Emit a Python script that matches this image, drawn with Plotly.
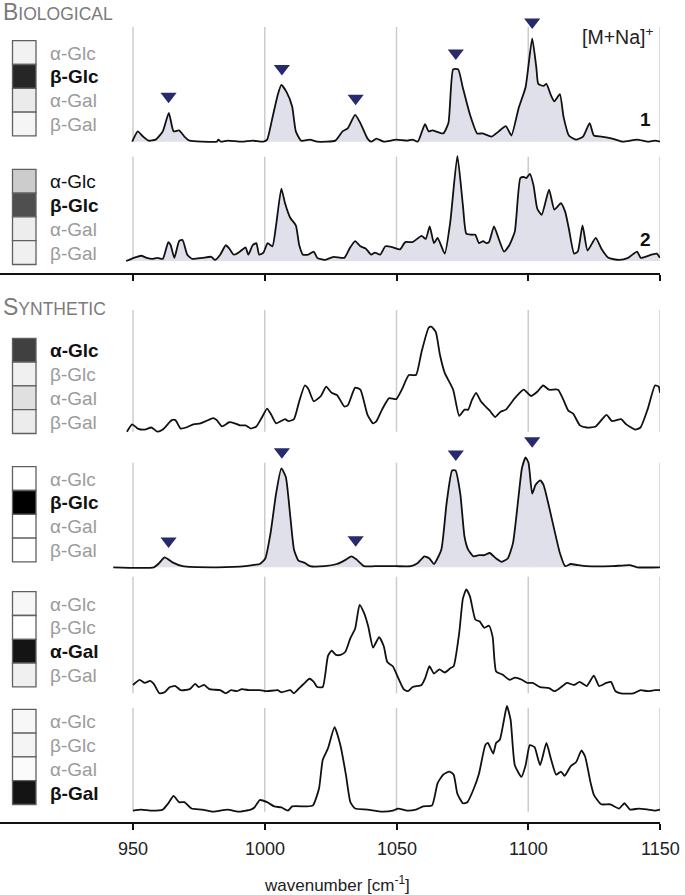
import plotly.graph_objects as go
import numpy as np

W, H = 685, 895

TICKS = [950, 1000, 1050, 1100, 1150]
TICK_LABELS = ["950", "1000", "1050", "1100", "1150"]
SUGARS = ["α-Glc", "β-Glc", "α-Gal", "β-Gal"]
MARKER_WN = [963.5, 1006.5, 1034.5, 1072.5, 1101.5]

# ---- spectra (wavenumber, relative intensity %) ----
WN1 = [949.7, 951.8, 953.8, 955.9, 958.6, 961.3, 963.6, 965.4, 967.5, 969.5, 971.5, 976.3, 981.8, 982.4, 983.4,
       985.9, 991.3, 995.4, 999.5, 1000.9, 1002.9, 1004.9, 1006.3, 1008.3, 1010.4, 1011.8, 1013.8, 1017.2, 1019.9,
       1026.8, 1029.5, 1031.5, 1034.3, 1036.3, 1039, 1040.4, 1042.4, 1045.2, 1049.9, 1054, 1056.1, 1058.1, 1060.8,
       1062.2, 1063.6, 1067.7, 1069.7, 1071.5, 1073.4, 1075.2, 1077.9, 1080.6, 1082.6, 1086.1, 1088.8, 1091.5,
       1093.6, 1096.3, 1099, 1101.5, 1103.1, 1103.8, 1105.8, 1106.9, 1108.6, 1109.9, 1112, 1113.4, 1115.4, 1118.1,
       1120.8, 1123.3, 1124.9, 1127.7, 1131.8, 1135.8, 1141.3, 1145.4, 1148.1, 1150]
I1 = [0, 10, 5, 1, 2, 10, 28, 10, 11, 5, 1, 0, 0, 2, 0,
      1, 0, 1, 0, 2, 23, 45, 55, 48, 34, 10, 1, 2, 0,
      1, 10, 13, 26, 18, 3, 0, 3, 0, 2, 1, 2, 0, 17,
      10, 11, 8, 18, 70, 70, 52, 26, 8, 8, 5, 10, 15,
      6, 32, 53, 100, 71, 56, 54, 56, 45, 39, 46, 24, 6, 2,
      5, 18, 6, 5, 3, 0, 2, 0, 1, 0]

WN2 = [947.4, 950.4, 953.1, 955.2, 957.2, 959.3, 961.3, 963.4, 964.3, 965.7, 967.5, 968.8, 970.6, 972.5, 976.3,
       979.7, 981.1, 983.1, 985.2, 986.5, 988.3, 990.6, 992.7, 993.8, 995.4, 996.8, 997.9, 999.5, 1001.1, 1002.9,
       1004.3, 1006.3, 1007.7, 1009.7, 1011.8, 1013.1, 1014.5, 1016.5, 1018.6, 1019.9, 1022.7, 1026.1, 1030.2,
       1032.2, 1034.3, 1036.3, 1038.3, 1040.4, 1041.8, 1043.8, 1045.8, 1048.6, 1051.3, 1053.3, 1056.1, 1059.5,
       1061.1, 1062.6, 1064.2, 1065.6, 1068.3, 1070.4, 1073.1, 1075.2, 1076.5, 1078.6, 1079.9, 1081.3, 1082.9,
       1084, 1085.1, 1087, 1088.8, 1090.8, 1092.8, 1094.9, 1097, 1098.3, 1099.3, 1100.6, 1102, 1103.4, 1105.1,
       1107.9, 1109.9, 1112.4, 1114, 1115.4, 1117.4, 1118.8, 1120.6, 1122.5, 1125.6, 1127.7, 1130.4, 1134.5,
       1137.9, 1141.3, 1142.7, 1146.8, 1148.8, 1150]
I2 = [0, 3, 5, 3, 2, 3, 2, 18, 15, 3, 19, 20, 6, 2, 3,
      4, 1, 6, 15, 12, 6, 9, 13, 6, 15, 17, 6, 8, 17, 14,
      34, 69, 55, 41, 34, 15, 6, 6, 9, 3, 1, 4, 3,
      12, 19, 14, 12, 6, 8, 6, 14, 13, 11, 18, 18, 24,
      21, 33, 17, 22, 7, 37, 100, 53, 26, 25, 25, 17, 19,
      17, 18, 33, 21, 9, 15, 28, 79, 80, 79, 83, 72, 50, 44,
      68, 49, 55, 47, 31, 7, 9, 34, 10, 22, 12, 3, 1,
      3, 9, 3, 6, 7, 3]

WN3 = [947.7, 949.7, 951.8, 954.5, 957, 959.3, 961.3, 964.7, 966.1, 968.1, 970.2, 972.9, 975.6, 977.7, 980.4,
       981.8, 983.8, 986.5, 988.6, 990.6, 992.7, 994.7, 996.8, 998.8, 1000.9, 1002.5, 1004.3, 1007.7, 1009,
       1011.1, 1013.1, 1015.2, 1016.5, 1018.6, 1021.3, 1023.3, 1025.4, 1027.4, 1030.2, 1031.5, 1034.3, 1036.3,
       1039, 1041.1, 1042.4, 1044.5, 1047.2, 1049.9, 1052, 1054.7, 1057.4, 1059.5, 1062.2, 1063.2, 1064.9,
       1066.5, 1068.3, 1071.5, 1073.8, 1075.8, 1077.2, 1078.6, 1080.2, 1082, 1083.8, 1085.4, 1087.4, 1089.5,
       1091.5, 1094.9, 1098.3, 1101, 1103.4, 1105.6, 1107.9, 1111.3, 1113.4, 1115.2, 1117.1, 1119.6, 1122.2,
       1125.6, 1129.7, 1131.8, 1135.2, 1137.2, 1140.6, 1142.6, 1145.4, 1148.1, 1149.5, 1150]
I3 = [0, 7, 3, 2, 4, 0, 2, 11, 11, 3, 4, 7, 8, 10, 13,
      11, 5, 9, 8, 6, 6, 3, 5, 13, 22, 16, 8, 12, 10,
      12, 29, 44, 41, 29, 34, 43, 37, 35, 24, 25, 42, 40,
      16, 8, 10, 21, 32, 31, 40, 54, 54, 76, 99, 100, 95,
      73, 56, 40, 15, 21, 21, 30, 37, 29, 24, 20, 14, 19,
      21, 32, 40, 34, 38, 44, 40, 40, 30, 20, 17, 6, 4,
      5, 16, 10, 12, 7, 2, 4, 22, 44, 43, 37]

WN4 = [942.5, 957.9, 960, 962, 965.4, 968.8, 981.8, 992.7, 995.4, 998.1, 1000.2, 1002.2, 1004.3, 1006.3, 1008,
       1009.7, 1011.1, 1012.8, 1015.2, 1017.2, 1022.7, 1027.4, 1030.8, 1032.9, 1034.9, 1037.7, 1041.7, 1049.9,
       1055.4, 1058.1, 1060.6, 1062.5, 1064.2, 1067, 1069, 1071.1, 1072.4, 1074.2, 1075.8, 1077.2, 1079.2,
       1081.3, 1083.3, 1085.4, 1087.8, 1089.9, 1092.2, 1094.2, 1096.3, 1097.6, 1099, 1100.1, 1101.5, 1102.8,
       1104.5, 1105.8, 1107.9, 1109.9, 1112, 1114, 1116.1, 1118.8, 1122.2, 1131.7, 1138.5, 1141.3, 1150]
I4 = [0, 0, 4, 9, 4, 1, 0, 1, 2, 3, 8, 31, 67, 90, 82,
      46, 16, 6, 4, 1, 1, 3, 7, 10, 7, 1, 1, 1,
      1, 4, 10, 8, 3, 16, 58, 88, 88, 67, 28, 16, 10,
      11, 11, 13, 8, 5, 8, 22, 64, 90, 100, 95, 67, 75,
      79, 75, 55, 34, 13, 1, 3, 2, 1, 1, 2, 0, 0]

WN5 = [950, 952.5, 954.5, 956.5, 957.9, 960, 962, 964, 966.1, 968.1, 971.5, 973.6, 975, 977, 979, 983.1,
       985.2, 987.2, 989.3, 991.3, 994, 998.1, 1000.9, 1004.9, 1006.3, 1009.7, 1011.1, 1013.1, 1015.2, 1016.9,
       1018.6, 1019.9, 1022, 1024, 1025.4, 1027, 1028.8, 1030.6, 1032.5, 1034.3, 1036, 1037.7, 1039.3, 1041.1,
       1043.4, 1045.2, 1046.5, 1048.6, 1050.6, 1052.7, 1054.3, 1056.1, 1059.5, 1060.8, 1062.5, 1064.2, 1066.3,
       1068.3, 1070.4, 1071.7, 1073.8, 1075.2, 1076.5, 1077.9, 1079.9, 1081.6, 1083.3, 1085.1, 1086.5, 1087.8,
       1090.2, 1092.9, 1094.9, 1097.6, 1099.7, 1101.7, 1104.5, 1107.9, 1109.9, 1112, 1114.7, 1117.4, 1119.5,
       1122.2, 1124.9, 1126.9, 1129.6, 1131.4, 1133.1, 1135.1, 1139.9, 1142.6, 1145.4, 1148.1, 1150]
I5 = [8, 13, 10, 12, 9, 0, 1, 6, 7, 3, 4, 9, 6, 8, 4, 3,
      0, 3, 2, 4, 3, 3, 2, 3, 1, 3, 0, 5, 10, 14,
      11, 6, 6, 36, 41, 37, 37, 40, 53, 62, 85, 77, 64, 44,
      54, 45, 30, 26, 15, 4, 2, 6, 8, 14, 26, 19, 23,
      20, 24, 26, 58, 91, 100, 93, 71, 69, 63, 65, 54, 21,
      18, 13, 15, 13, 10, 10, 6, 5, 2, 5, 10, 8, 11,
      7, 17, 7, 10, 11, 2, 0, 0, 3, 2, 3, 3]

WN6 = [950, 953.1, 957.2, 961.3, 963.4, 965.4, 967.5, 969.5, 972.2, 976.3, 980.4, 985.9, 989.9, 994.7, 996.1,
       998.1, 1000.9, 1003.6, 1006.3, 1008.8, 1010.4, 1015.8, 1018.3, 1020.6, 1022, 1024, 1026.5, 1028.8,
       1030.8, 1032.5, 1034.3, 1039, 1044.5, 1048.6, 1050.6, 1054, 1057.4, 1060.1, 1063.5, 1065.6, 1067.7,
       1070.1, 1071.7, 1073.1, 1075.2, 1076.9, 1079.2, 1081.3, 1083.7, 1084.7, 1086.7, 1087.8, 1089.2, 1090.8,
       1091.9, 1093.3, 1094.9, 1097.4, 1099, 1100.6, 1102.4, 1104.5, 1106.9, 1108.6, 1110.6, 1112.4, 1113.8,
       1116.1, 1118.2, 1120.2, 1121.6, 1123.6, 1124.9, 1127.7, 1131.1, 1134.5, 1136.5, 1138.6, 1142, 1145.4,
       1148.1, 1150]
I6 = [1, 2, 1, 2, 8, 15, 9, 9, 3, 2, 0, 2, 0, 2, 4,
      11, 9, 5, 4, 1, 5, 5, 6, 22, 49, 60, 80, 62,
      35, 9, 3, 2, 0, 1, 3, 1, 2, 5, 6, 27, 35,
      38, 35, 17, 8, 9, 21, 36, 63, 65, 55, 65, 68, 87,
      100, 87, 44, 33, 44, 63, 61, 44, 65, 50, 35, 38, 34,
      43, 47, 58, 52, 28, 16, 7, 7, 3, 8, 2, 3, 2,
      1, 2]

# classification scores shown in the grey boxes (0 = white, 1 = black)
SCORES = [
    [0.05, 0.85, 0.08, 0.04],
    [0.20, 0.69, 0.07, 0.06],
    [0.75, 0.06, 0.12, 0.075],
    [0.00, 1.00, 0.00, 0.00],
    [0.03, 0.00, 0.92, 0.06],
    [0.03, 0.045, 0.015, 0.92],
]
PANEL_NUM = ["1", "2", "", "", "", ""]
FILLED = [True, True, False, True, False, False]
MARKED = [True, False, False, True, False, False]

SPECTRA = [(WN1, I1), (WN2, I2), (WN3, I3), (WN4, I4), (WN5, I5), (WN6, I6)]

# ---- layout geometry (pixels from top / left of the 685x895 frame) ----
PANELS = [
    dict(base=141.7, peak=103.3, grid_top=27.0, top=3, bottom=148, box_top=40.7),
    dict(base=261.0, peak=105.0, grid_top=156.7, top=150, bottom=266, box_top=169.3),
    dict(base=431.7, peak=105.0, grid_top=310.0, top=300, bottom=438, box_top=338.3),
    dict(base=567.3, peak=110.0, grid_top=462.7, top=434, bottom=572, box_top=466.7),
    dict(base=693.3, peak=104.0, grid_top=576.7, top=574, bottom=698, box_top=591.7),
    dict(base=811.7, peak=105.7, grid_top=708.0, top=700, bottom=815, box_top=709.3),
]
BOX_H = 23.8
BOX_X0, BOX_X1 = 12.5, 36.0
LABEL_X = 48

FONT = "Liberation Sans, Arial, sans-serif"
LINE_C = "#111111"
FILL_C = "#e0e0ea"
TRI_C = "#272a6b"
GRID_C = "#cccccc"


def py(px):
    return 1 - px / H


def pxx(px):
    return px / W


X_DOMAIN = [0, pxx(660)]
PX_PER_UNIT = (660 - 133) / 200.0
X_RANGE = [950 - 133 / PX_PER_UNIT, 1150]

fig = go.Figure()
shapes = []
annotations = []

for i, ((wn, inten), p) in enumerate(zip(SPECTRA, PANELS)):
    yname = "y" if i == 0 else f"y{i + 1}"
    xname = "x2" if i < 2 else "x"
    k = p["peak"] / 100.0
    yr = [(p["base"] - p["bottom"]) / k, (p["base"] - p["top"]) / k]
    fig.add_trace(go.Scatter(
        x=wn, y=inten, mode="lines", xaxis=xname, yaxis=yname,
        line=dict(color=LINE_C, width=1.8, shape="spline", smoothing=0.5),
        fill="tozeroy" if FILLED[i] else None,
        fillcolor=FILL_C, hoverinfo="skip", showlegend=False,
    ))
    if MARKED[i]:
        wa = np.array(wn)
        ia = np.array(inten)
        my = [ia[(wa >= m - 2.5) & (wa <= m + 2.5)].max() + 16.5 / k for m in MARKER_WN]
        fig.add_trace(go.Scatter(
            x=MARKER_WN, y=my, mode="markers", xaxis=xname, yaxis=yname,
            marker=dict(symbol="triangle-down", size=14, color=TRI_C, line=dict(width=0)),
            cliponaxis=False, hoverinfo="skip", showlegend=False,
        ))
    key = "yaxis" if i == 0 else f"yaxis{i + 1}"
    fig.layout[key] = dict(domain=[py(p["bottom"]), py(p["top"])], range=yr, visible=False,
                           anchor=xname, fixedrange=True)

    # vertical guide lines at the tick positions
    for t in TICKS:
        shapes.append(dict(type="line", xref=xname, yref="paper", x0=t, x1=t,
                           y0=py(p["base"]), y1=py(p["grid_top"]),
                           line=dict(color=GRID_C, width=1.5), layer="below"))

    # grey score boxes + labels
    sc = SCORES[i]
    best = int(np.argmax(sc))
    for j, (lab, s) in enumerate(zip(SUGARS, sc)):
        y0 = p["box_top"] + j * BOX_H
        g = int(round(255 * (1 - s)))
        shapes.append(dict(type="rect", xref="paper", yref="paper",
                           x0=pxx(BOX_X0), x1=pxx(BOX_X1), y0=py(y0 + BOX_H), y1=py(y0),
                           fillcolor=f"rgb({g},{g},{g})", line=dict(color="#606060", width=1.3)))
        if j == best:
            txt, col = f"<b>{lab}</b>", "#111111"
        elif s >= 0.15:
            txt, col = lab, "#111111"
        else:
            txt, col = lab, "#9b9b9b"
        annotations.append(dict(xref="paper", yref="paper", x=pxx(LABEL_X), y=py(y0 + BOX_H / 2 + 0.5),
                                text=txt, showarrow=False, xanchor="left", yanchor="middle",
                                font=dict(size=19, color=col, family=FONT)))
    if PANEL_NUM[i]:
        annotations.append(dict(xref="paper", yref="paper", x=pxx(645), y=py(p["base"] - 22),
                                text=f"<b>{PANEL_NUM[i]}</b>", showarrow=False, xanchor="center",
                                yanchor="middle", font=dict(size=19, color="#111111", family=FONT)))

# tick labels of the bottom axis (placed through the x axis scale)
for t, lab in zip(TICKS, TICK_LABELS):
    annotations.append(dict(xref="x", yref="paper", x=t, y=py(849), text=lab, showarrow=False,
                            xanchor="center", yanchor="middle",
                            font=dict(size=18, color="#222222", family=FONT)))

# section titles (small caps)
for txt, ypx in [("B|IOLOGICAL", 12), ("S|YNTHETIC", 307)]:
    a, b = txt.split("|")
    annotations.append(dict(xref="paper", yref="paper", x=pxx(1), y=py(ypx),
                            text=f"<span style='font-size:23px'>{a}</span>{b}", showarrow=False,
                            xanchor="left", yanchor="middle",
                            font=dict(size=17.5, color="#7b7b7b", family=FONT)))

annotations.append(dict(xref="paper", yref="paper", x=pxx(655), y=py(36),
                        text="[M+Na]<sup>+</sup>", showarrow=False, xanchor="right", yanchor="middle",
                        font=dict(size=19.5, color="#222222", family=FONT)))
annotations.append(dict(xref="paper", yref="paper", x=pxx(337), y=py(884),
                        text="wavenumber [cm<sup>-1</sup>]", showarrow=False, xanchor="center",
                        yanchor="middle", font=dict(size=17, color="#222222", family=FONT)))

common_x = dict(domain=X_DOMAIN, range=X_RANGE, showgrid=False, zeroline=False, showline=True,
                linecolor="#111111", linewidth=2, ticks="outside", ticklen=6, tickwidth=1.5,
                tickcolor="#111111", tickvals=TICKS, fixedrange=True, anchor="free",
                showticklabels=False)
fig.layout.xaxis = dict(common_x, position=py(822.7))
fig.layout.xaxis2 = dict(common_x, position=py(274))

fig.update_layout(width=W, height=H, margin=dict(l=0, r=0, t=0, b=0),
                  paper_bgcolor="white", plot_bgcolor="rgba(0,0,0,0)",
                  shapes=shapes, annotations=annotations, showlegend=False,
                  font=dict(family=FONT))

fig.write_html(
    "out.html",
    config={"displayModeBar": False},
    post_script="document.body.style.margin='0';document.body.style.padding='0';"
                "document.body.style.overflow='hidden';",
)
